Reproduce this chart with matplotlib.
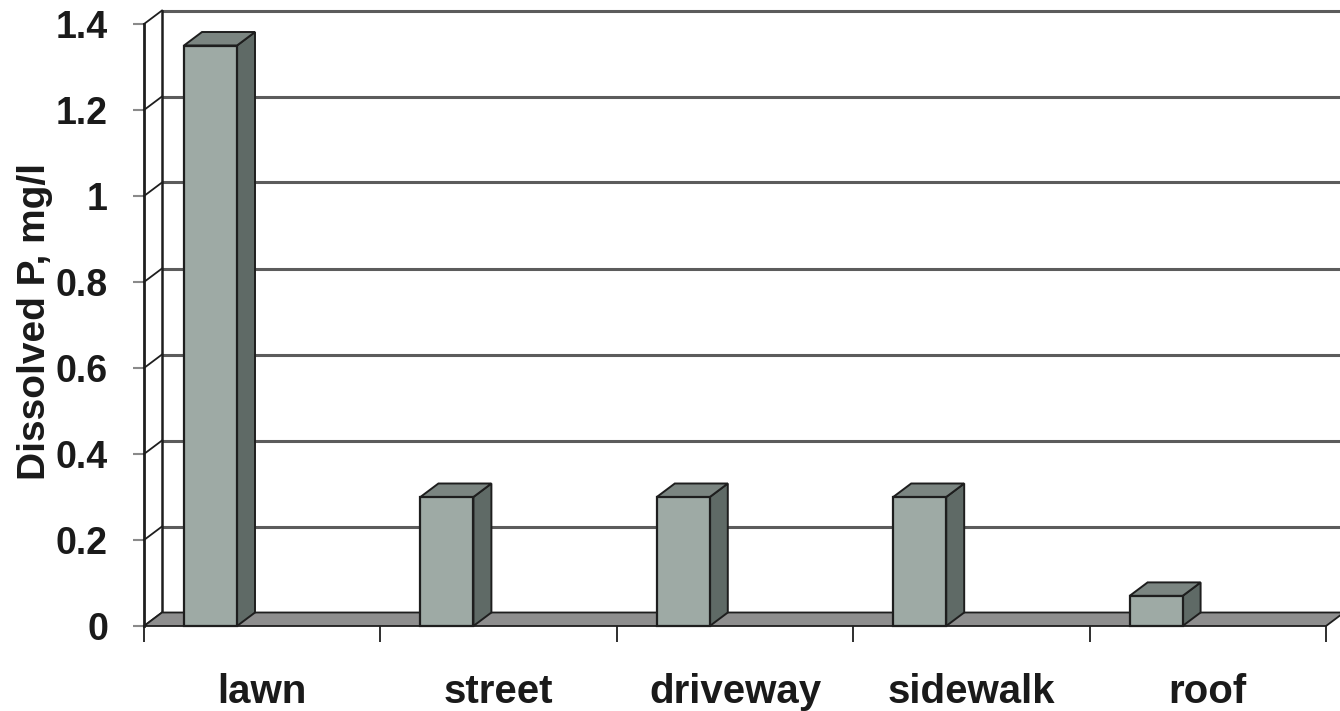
import matplotlib
matplotlib.use("Agg")
import matplotlib.pyplot as plt
from matplotlib.patches import Polygon, Rectangle

# Dissolved phosphorus in runoff by source area
categories = ["lawn", "street", "driveway", "sidewalk", "roof"]
dissolved_p = [1.35, 0.30, 0.30, 0.30, 0.07]
y_ticks = [0, 0.2, 0.4, 0.6, 0.8, 1.0, 1.2, 1.4]
y_tick_labels = ["0", "0.2", "0.4", "0.6", "0.8", "1", "1.2", "1.4"]
y_label = "Dissolved P, mg/l"

FONT = "Liberation Sans"
FRONT = "#9eaaa5"
SIDE = "#5f6a66"
TOP = "#7b8581"
FLOOR = "#8e8e8e"
EDGE = "#1e1e1e"
GRID = "#5c5c5c"

W, H = 1340, 711
fig = plt.figure(figsize=(W / 100, H / 100), dpi=100)
fig.patch.set_facecolor("white")

# front plane of the 3-D box
left_px, right_px, top_px, base_px = 144, 1326, 24, 626
ax = fig.add_axes([left_px / W, (H - base_px) / H,
                   (right_px - left_px) / W, (base_px - top_px) / H])
n = len(categories)
ymax = y_ticks[-1]
ax.set_xlim(0, n)
ax.set_ylim(0, ymax)
ax.set_facecolor("none")
for s in ax.spines.values():
    s.set_visible(False)

# depth offset of the box, in data units
px_x = (right_px - left_px) / n
px_y = (base_px - top_px) / ymax
DX = 18 / px_x
DY = 13.5 / px_y

# back wall: gridlines and edges
for yv in y_ticks:
    ax.plot([DX, n + DX + 0.2], [yv + DY, yv + DY], color=GRID, lw=2.2,
            clip_on=False, zorder=1, solid_capstyle="butt")
ax.plot([DX, DX], [DY, ymax + DY], color=EDGE, lw=1.8, clip_on=False, zorder=2)

# side wall: front axis plus diagonals at each tick level
ax.plot([0, 0], [0, ymax], color=EDGE, lw=2.0, clip_on=False, zorder=2)
for yv in y_ticks:
    ax.plot([0, DX], [yv, yv + DY], color=EDGE, lw=1.3, clip_on=False, zorder=2)

# floor
floor = Polygon([(0, 0), (n, 0), (n + DX, DY), (DX, DY)], closed=True,
                facecolor=FLOOR, edgecolor=EDGE, lw=1.3, clip_on=False, zorder=3)
ax.add_patch(floor)

# bars as boxes: front face, right side and top
bar_off = 40 / px_x
bar_w = 53 / px_x
for i, v in enumerate(dissolved_p):
    x0 = i + bar_off
    x1 = x0 + bar_w
    side = Polygon([(x1, 0), (x1 + DX, DY), (x1 + DX, v + DY), (x1, v)],
                   closed=True, facecolor=SIDE, edgecolor=EDGE, lw=1.4,
                   clip_on=False, zorder=4)
    top = Polygon([(x0, v), (x1, v), (x1 + DX, v + DY), (x0 + DX, v + DY)],
                  closed=True, facecolor=TOP, edgecolor=EDGE, lw=1.4,
                  clip_on=False, zorder=4)
    front = Rectangle((x0, 0), bar_w, v, facecolor=FRONT, edgecolor=EDGE,
                      lw=1.6, clip_on=False, zorder=5)
    ax.add_patch(side)
    ax.add_patch(top)
    ax.add_patch(front)

# value axis ticks and labels
ax.set_yticks(y_ticks)
ax.set_yticklabels(y_tick_labels, fontfamily=FONT, fontweight="bold",
                   fontsize=27, color="#1a1a1a")
ax.tick_params(axis="y", length=8, width=1.5, color="#8a8a8a", pad=18)

# category boundaries as ticks, names centred between them
ax.set_xticks(range(n + 1))
ax.set_xticklabels([""] * (n + 1))
ax.tick_params(axis="x", length=11.5, width=1.3, color=EDGE)
base_y = -(703 - base_px) / px_y
for i, name in enumerate(categories):
    ax.text(i + 0.5, base_y, name, ha="center", va="baseline",
            fontfamily=FONT, fontweight="bold", fontsize=29, color="#1a1a1a",
            clip_on=False)

fig.text(35 / W, (H - 322) / H, y_label, rotation=90, ha="center", va="center",
         fontfamily=FONT, fontweight="bold", fontsize=28, color="#1a1a1a")

fig.savefig("out.png", dpi=100, facecolor="white")
